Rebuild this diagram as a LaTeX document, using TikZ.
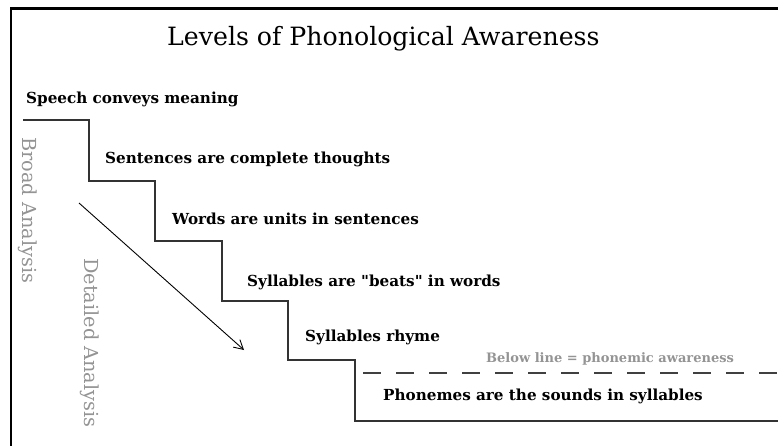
\documentclass[tikz,border=0pt]{standalone}
\usepackage{fontspec}
\setmainfont{DejaVu Serif}
\usetikzlibrary{arrows.meta}

\begin{document}
\begin{tikzpicture}[
  x=1pt, y=-1pt,
  every node/.style={inner sep=0pt, anchor=base west},
  level/.style={font=\fontsize{15.2}{17}\selectfont\bfseries, text=black},
  side/.style={font=\fontsize{19.3}{21}\selectfont, text=black!42, rotate=-90, anchor=west},
  stair/.style={line width=1.4pt, draw=black!80},
  frame/.style={line width=2.4pt, draw=black}
]
  \useasboundingbox (0,0) rectangle (778,446);
  \draw[frame] (778,8.5) -| (11,446);

  \node[font=\fontsize{25.2}{28}\selectfont] (title) at (167,46) {Levels of Phonological Awareness};

  % staircase
  \draw[stair] (23,120) -| (89,181) -| (155,241) -| (222,301) -| (288,360) -| (355,421) -- (778,421);
  \draw[dashed, dash pattern=on 18pt off 15pt, line width=1.2pt, draw=black!75] (363,373) -- (778,373);

  \node[level] (speech)   at (26,104)  {Speech conveys meaning};
  \node[level] (sent)     at (105,164) {Sentences are complete thoughts};
  \node[level] (words)    at (172,225) {Words are units in sentences};
  \node[level] (beats)    at (247,286) {Syllables are \textquotedbl beats\textquotedbl{} in words};
  \node[level] (rhyme)    at (305,341) {Syllables rhyme};
  \node[font=\fontsize{13}{15}\selectfont\bfseries, text=black!42] (below) at (486,362) {Below line = phonemic awareness};
  \node[level] (phon)     at (383,400) {Phonemes are the sounds in syllables};

  \node[side] (broad)  at (28,137) {Broad Analysis};
  \node[side] (detail) at (90,258) {Detailed Analysis};

  \coordinate (from) at (79,203);
  \coordinate (to)   at (244,350);
  \draw[-{Straight Barb[length=9pt, width=10pt]}, line width=0.9pt] (from) -- (to);
\end{tikzpicture}
\end{document}
